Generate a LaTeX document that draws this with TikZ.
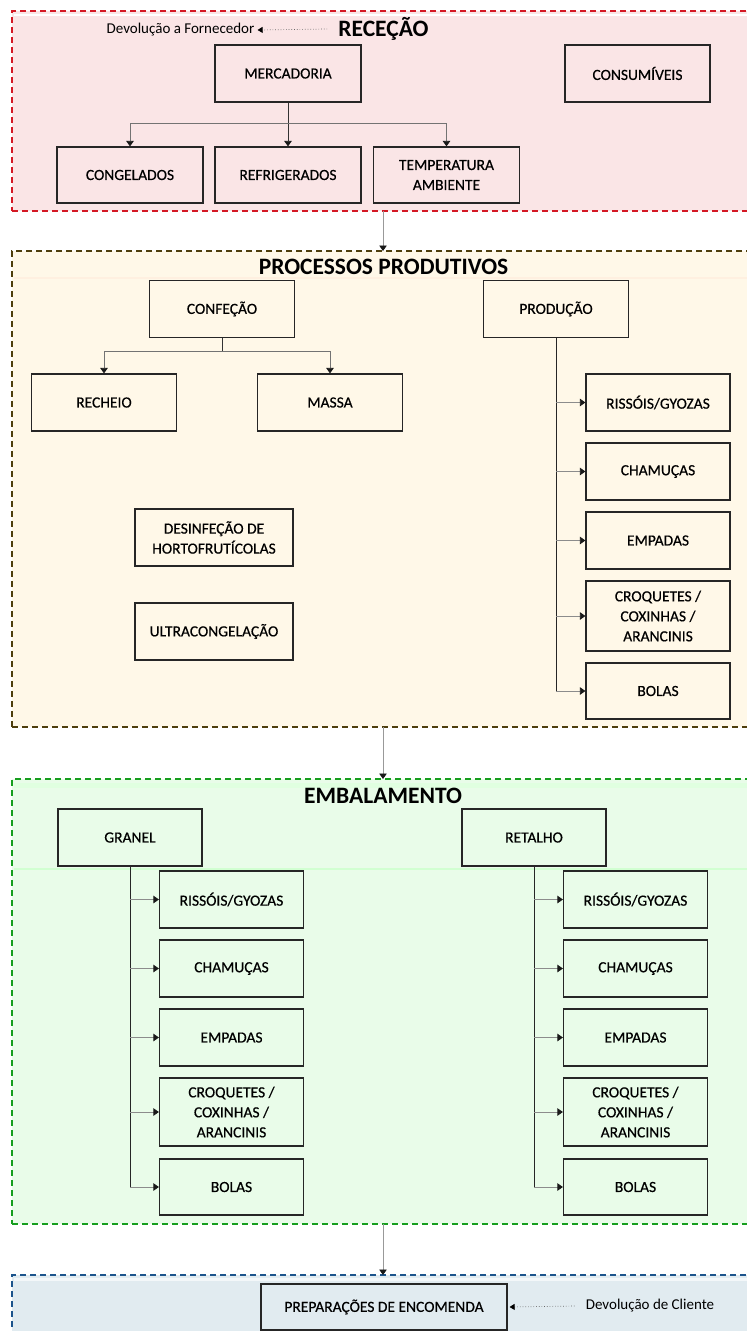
\documentclass[tikz,border=0pt]{standalone}
\usepackage{fontspec}
\setmainfont{Carlito}
\newfontfamily\boxfont[FakeBold=0.5]{Carlito}
\usetikzlibrary{arrows.meta}
\definecolor{recfill}{RGB}{250,229,230}
\definecolor{recline}{RGB}{212,24,36}
\definecolor{procfill}{RGB}{255,248,232}
\definecolor{procline}{RGB}{78,62,12}
\definecolor{embfill}{RGB}{233,252,233}
\definecolor{embline}{RGB}{22,158,30}
\definecolor{prepfill}{RGB}{225,235,240}
\definecolor{prepline}{RGB}{28,84,140}
\begin{document}
\begin{tikzpicture}[x=1pt,y=-1pt,
  frame/.style={rectangle, line width=2.4pt, dash pattern=on 6pt off 4pt, minimum width=742pt, inner sep=0pt, outer sep=0pt},
  title/.style={font=\fontsize{23.5}{26}\selectfont\bfseries, inner sep=0pt},
  box/.style={draw=black!85, line width=1.2pt, minimum width=145pt, minimum height=57pt, inner sep=0pt, align=center, font=\boxfont\fontsize{15.5}{20}\selectfont},
  plain/.style={font=\fontsize{15}{18}\selectfont, inner sep=0pt},
  conn/.style={draw=black!80, line width=0.8pt, -{Triangle[length=5.5pt,width=7.5pt,color=black!90]}},
  dotarrow/.style={draw=black!60, line width=0.7pt, dotted, -{Triangle[length=5pt,width=6pt,color=black]}}
]
\useasboundingbox (0,0) rectangle (747,1331);
\clip (0,0) rectangle (747,1331);

% ---------- frames ----------
\node[frame, draw=recline, fill=recfill, minimum height=200pt] (rec) at (383,111) {};
\node[frame, draw=procline, fill=procfill, minimum height=476pt] (proc) at (383,489) {};
\node[frame, draw=embline, fill=embfill, minimum height=445pt] (emb) at (383,1001.5) {};
\node[frame, draw=prepline, fill=prepfill, minimum height=80pt] (prep) at (383,1315) {};

% faint bands
\draw[white, line width=2.5pt] (14,15) -- (747,15);
\draw[orange!12, line width=1.5pt] (14,278) -- (747,278);
\draw[green!12, line width=5pt] (14,785) -- (747,785);
\draw[green!18, line width=1.5pt] (14,869) -- (747,869);
\draw[white!60!prepfill, line width=3pt] (14,1279) -- (747,1279);

% ---------- RECECAO ----------
\node[title] (t1) at (383.5,29) {RECEÇÃO};
\node[plain] (dev1) at (180.5,30) {Devolução a Fornecedor};
\draw[dotarrow] ([xshift=-11pt]t1.west) -- ([xshift=3pt]dev1.east);

\node[box, minimum width=146pt] (merc) at (288,73.5) {MERCADORIA};
\node[box] (cons) at (637.5,73.5) {CONSUMÍVEIS};
\node[box, minimum width=146pt, minimum height=56pt] (cong) at (130,175) {CONGELADOS};
\node[box, minimum width=146pt, minimum height=56pt] (refr) at (288,175) {REFRIGERADOS};
\node[box, minimum width=146pt, minimum height=56pt] (temp) at (446.5,175) {TEMPERATURA\\AMBIENTE};

\coordinate (mj) at (288,123);
\draw[black!80, line width=0.8pt] (merc.south) -- (mj);
\draw[conn, draw=black!55] (mj) -| (cong.north);
\draw[conn] (mj) -- (refr.north);
\draw[conn, draw=black!55] (mj) -| (temp.north);

% ---------- PROCESSOS PRODUTIVOS ----------
\node[title] (t2) at (383.5,267) {PROCESSOS PRODUTIVOS};
\node[box] (conf) at (222,309) {CONFEÇÃO};
\node[box] (prod) at (556,309) {PRODUÇÃO};
\node[box] (rech) at (104,402.5) {RECHEIO};
\node[box] (massa) at (330,402.5) {MASSA};
\node[box, minimum width=158pt] (desi) at (214,537.5) {DESINFEÇÃO DE\\HORTOFRUTÍCOLAS};
\node[box, minimum width=158pt] (ultra) at (214,631.5) {ULTRACONGELAÇÃO};

\coordinate (cj) at (222,351);
\draw[black!80, line width=0.8pt] (conf.south) -- (cj);
\draw[conn, draw=black!55] (cj) -| (rech.north);
\draw[conn, draw=black!55] (cj) -| (massa.north);

\node[box, minimum width=144pt] (p1) at (658,402.5) {RISSÓIS/GYOZAS};
\node[box, minimum width=144pt] (p2) at (658,471.5) {CHAMUÇAS};
\node[box, minimum width=144pt] (p3) at (658,540.5) {EMPADAS};
\node[box, minimum width=144pt, minimum height=70pt] (p4) at (658,616) {CROQUETES /\\COXINHAS /\\ARANCINIS};
\node[box, minimum width=144pt, minimum height=56pt] (p5) at (658,691) {BOLAS};

\draw[black!85, line width=0.9pt] (prod.south) -- (prod.south |- p5.west);
\foreach \n in {p1,p2,p3,p4,p5}
  \draw[conn, draw=black!45] (prod.south |- \n.west) -- (\n.west);

% ---------- EMBALAMENTO ----------
\node[title] (t3) at (383,796) {EMBALAMENTO};
\node[box, minimum width=144pt] (gran) at (130,837.5) {GRANEL};
\node[box, minimum width=144pt] (reta) at (534,837.5) {RETALHO};

\node[box, minimum width=144pt] (g1) at (231.5,899.5) {RISSÓIS/GYOZAS};
\node[box, minimum width=144pt] (g2) at (231.5,968.5) {CHAMUÇAS};
\node[box, minimum width=144pt] (g3) at (231.5,1037.5) {EMPADAS};
\node[box, minimum width=144pt, minimum height=68pt] (g4) at (231.5,1112) {CROQUETES /\\COXINHAS /\\ARANCINIS};
\node[box, minimum width=144pt, minimum height=56pt] (g5) at (231.5,1187) {BOLAS};

\node[box, minimum width=144pt] (r1) at (635.5,899.5) {RISSÓIS/GYOZAS};
\node[box, minimum width=144pt] (r2) at (635.5,968.5) {CHAMUÇAS};
\node[box, minimum width=144pt] (r3) at (635.5,1037.5) {EMPADAS};
\node[box, minimum width=144pt, minimum height=68pt] (r4) at (635.5,1112) {CROQUETES /\\COXINHAS /\\ARANCINIS};
\node[box, minimum width=144pt, minimum height=56pt] (r5) at (635.5,1187) {BOLAS};

\draw[black!85, line width=0.9pt] (gran.south) -- (gran.south |- g5.west);
\draw[black!85, line width=0.9pt] (reta.south) -- (reta.south |- r5.west);
\foreach \n in {g1,g2,g3,g4,g5}
  \draw[conn, draw=black!45] (gran.south |- \n.west) -- (\n.west);
\foreach \n in {r1,r2,r3,r4,r5}
  \draw[conn, draw=black!45] (reta.south |- \n.west) -- (\n.west);

% ---------- PREPARACOES ----------
\node[box, minimum width=246pt, minimum height=46pt, fill=prepfill] (enc) at (384,1307) {PREPARAÇÕES DE ENCOMENDA};
\node[plain] (dev2) at (650,1306) {Devolução de Cliente};
\draw[dotarrow] ([xshift=-11pt]dev2.west) -- ([xshift=2pt]enc.east);

% ---------- links between frames ----------
\draw[conn, draw=black!40] (rec.south) -- (proc.north);
\draw[conn, draw=black!40] (proc.south) -- (emb.north);
\draw[conn, draw=black!40] (emb.south) -- (prep.north);
\end{tikzpicture}
\end{document}
